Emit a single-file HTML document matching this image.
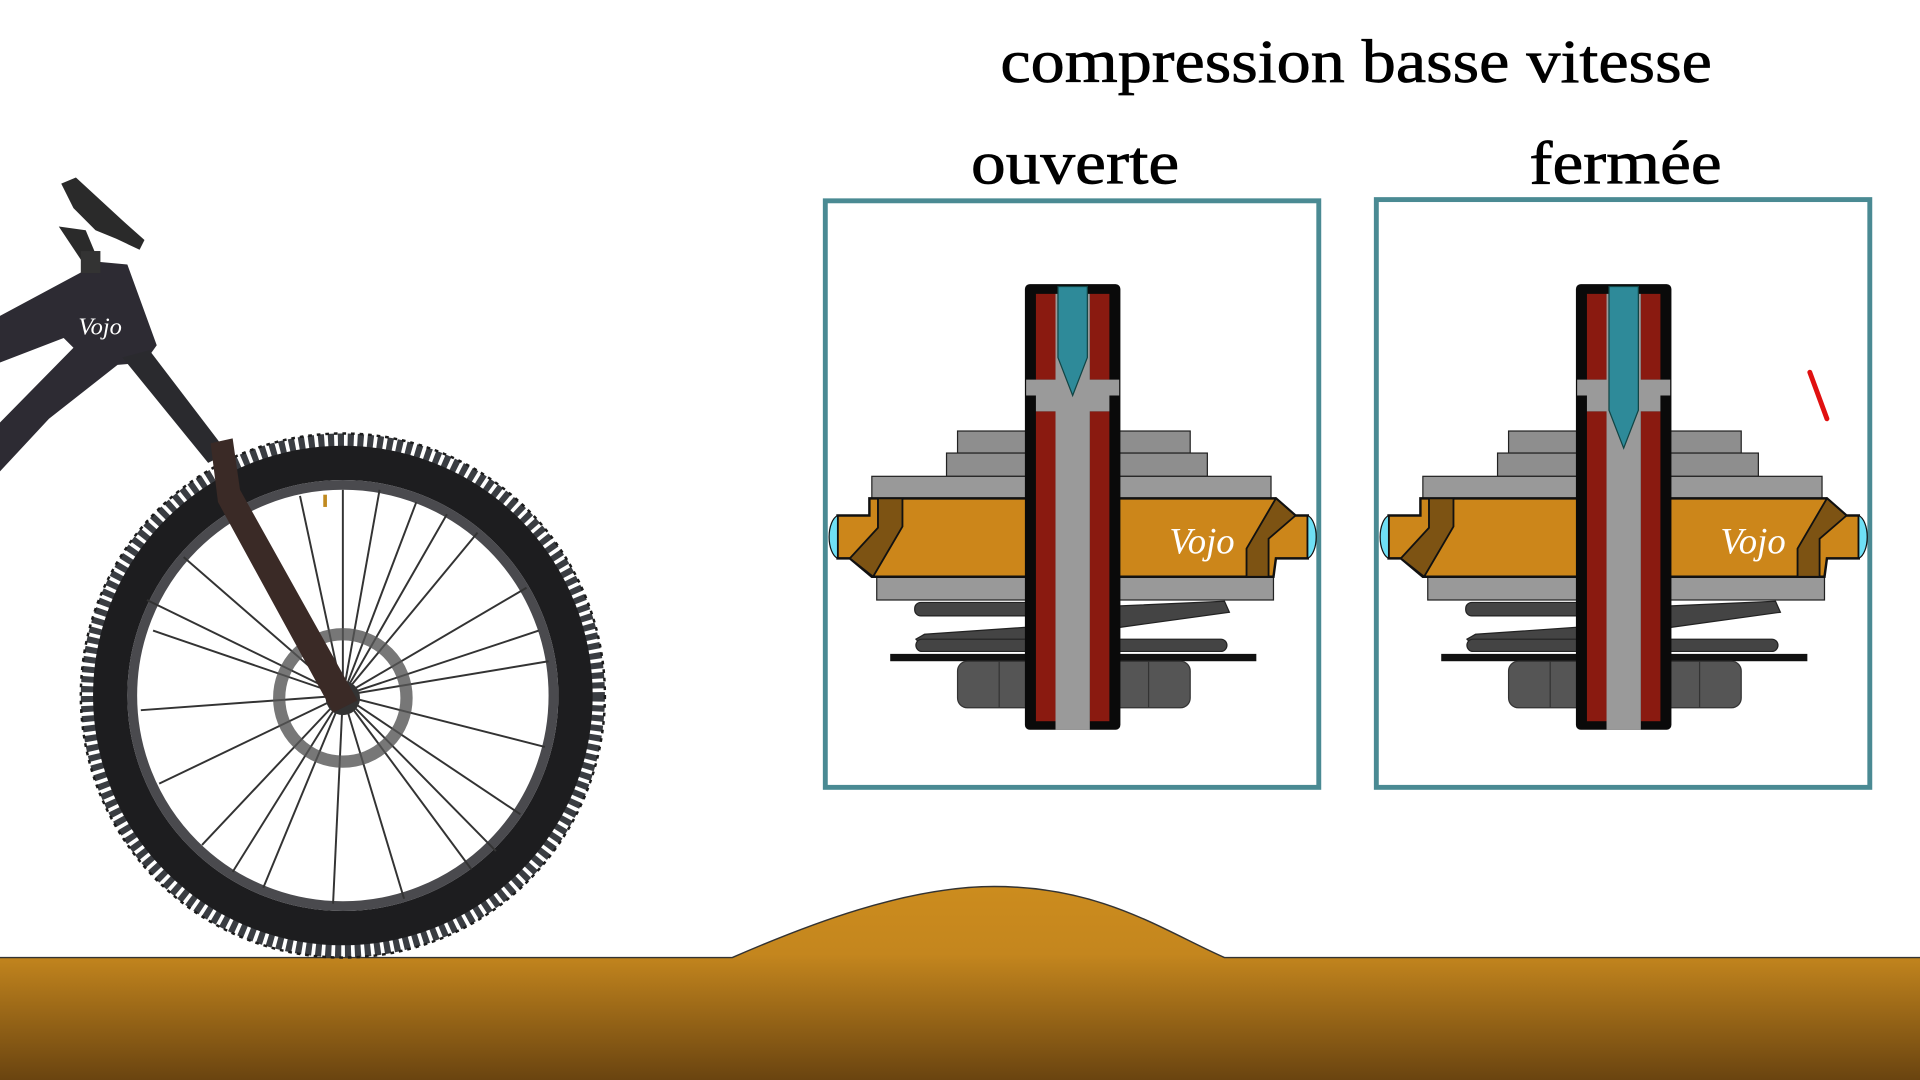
<!DOCTYPE html>
<html><head><meta charset="utf-8"><style>
html,body{margin:0;padding:0;background:#fff;width:1920px;height:1080px;overflow:hidden}
svg{display:block}
text{font-family:"Liberation Serif",serif}
</style></head><body>
<svg width="1920" height="1080" viewBox="0 0 1568 882" preserveAspectRatio="none" xmlns="http://www.w3.org/2000/svg">
<defs>
<linearGradient id="gr" x1="0" y1="0" x2="0" y2="1">
<stop offset="0" stop-color="#cc8c1e"/><stop offset="0.35" stop-color="#c4861e"/><stop offset="1" stop-color="#6a4410"/>
</linearGradient>
<g id="piston">
  <rect x="782" y="352" width="60" height="18" fill="#8e8e8e" stroke="#222" stroke-width="1"/>
  <rect x="773" y="370" width="69" height="19" fill="#8e8e8e" stroke="#222" stroke-width="1"/>
  <rect x="712" y="389" width="130" height="19" fill="#999" stroke="#222" stroke-width="1"/>
  <rect x="910" y="352" width="62" height="18" fill="#8e8e8e" stroke="#222" stroke-width="1"/>
  <rect x="910" y="370" width="76" height="19" fill="#8e8e8e" stroke="#222" stroke-width="1"/>
  <rect x="910" y="389" width="128" height="19" fill="#999" stroke="#222" stroke-width="1"/>
  <rect x="716" y="471" width="126" height="19" fill="#999" stroke="#222" stroke-width="1"/>
  <rect x="910" y="471" width="130" height="19" fill="#999" stroke="#222" stroke-width="1"/>
  <rect x="747" y="492" width="95" height="11" rx="5" fill="#444" stroke="#222"/>
  <polygon points="910,495 1000,491 1004,500 910,513" fill="#444" stroke="#222"/>
  <polygon points="842,512 842,525 752,526 748,522 755,518" fill="#444" stroke="#222"/>
  <rect x="748" y="522" width="94" height="10" rx="5" fill="#444" stroke="#222"/>
  <rect x="910" y="522" width="92" height="10" rx="5" fill="#444" stroke="#222"/>
  <rect x="727" y="534" width="299" height="6" fill="#111"/>
  <rect x="782" y="540" width="190" height="38" rx="8" fill="#555" stroke="#333"/>
  <line x1="816" y1="540" x2="816" y2="578" stroke="#333"/>
  <line x1="938" y1="540" x2="938" y2="578" stroke="#333"/>
  <polygon points="710,407 842,407 842,471 712,471 694,456 684,456 684,421 710,421" fill="#cc861a" stroke="#111" stroke-width="2"/>
  <polygon points="717,407 737,407 737,430 713,471 694,456 717,431" fill="#7d5313" stroke="#111" stroke-width="1.5"/>
  <path d="M684,421 A9,18 0 0 0 684,456 Z" fill="#6fe0f5" stroke="#111"/>
  <polygon points="910,407 1042,407 1058,421 1068,421 1068,456 1042,456 1040,471 910,471" fill="#cc861a" stroke="#111" stroke-width="2"/>
  <polygon points="1042,407 1058,421 1036,440 1036,471 1018,471 1018,448" fill="#7d5313" stroke="#111" stroke-width="1.5"/>
  <path d="M1068,421 A9,18 0 0 1 1068,456 Z" fill="#6fe0f5" stroke="#111"/>
  <text x="955" y="452" font-family="Liberation Sans,sans-serif" font-style="italic" font-size="30" fill="#fff">Vojo</text>
  <rect x="837" y="232" width="78" height="364" rx="4" fill="#0a0a0a"/>
  <rect x="846" y="240" width="16" height="70" fill="#8a1a10"/>
  <rect x="890" y="240" width="16" height="70" fill="#8a1a10"/>
  <rect x="846" y="336" width="16" height="253" fill="#8a1a10"/>
  <rect x="890" y="336" width="16" height="253" fill="#8a1a10"/>
  <rect x="862" y="240" width="28" height="356" fill="#9a9a9a"/>
  <polygon points="838,310 914,310 914,323 906,323 906,336 846,336 846,323 838,323" fill="#9a9a9a"/>
</g>
</defs>

<text x="817" y="67" font-size="50" textLength="581" lengthAdjust="spacingAndGlyphs" fill="#000" stroke="#000" stroke-width="0.6">compression basse vitesse</text>
<text x="793" y="150" font-size="50" textLength="170" lengthAdjust="spacingAndGlyphs" fill="#000" stroke="#000" stroke-width="0.6">ouverte</text>
<text x="1249" y="150" font-size="50" textLength="157" lengthAdjust="spacingAndGlyphs" fill="#000" stroke="#000" stroke-width="0.6">fermée</text>

<rect x="674" y="164" width="403" height="479" fill="none" stroke="#4a8a93" stroke-width="4"/>
<rect x="1124" y="163" width="403" height="480" fill="none" stroke="#4a8a93" stroke-width="4"/>

<use href="#piston"/>
<polygon points="864,234 888,234 888,292 876,323 864,292" fill="#2e8a99" stroke="#144" stroke-width="1"/>
<use href="#piston" transform="translate(450,0)"/>
<polygon points="1314,234 1338,234 1338,335 1326,366 1314,335" fill="#2e8a99" stroke="#144" stroke-width="1"/>
<line x1="1478" y1="304" x2="1492" y2="342" stroke="#e01010" stroke-width="4" stroke-linecap="round"/>

<path d="M0,782 L598,782 C660,755 740,724 812,724 C900,724 950,760 1000,782 L1568,782 L1568,882 L0,882 Z" fill="url(#gr)"/>
<path d="M0,782 L598,782 C660,755 740,724 812,724 C900,724 950,760 1000,782 L1568,782" fill="none" stroke="#333" stroke-width="1.2"/>

<path d="M0,258 L82,214 L104,216 L128,282 L118,296 L96,298 L40,342 L0,385 Z M0,296 L52,276 L60,284 L0,345 Z" fill="#2d2b33" fill-rule="evenodd"/>
<text x="64" y="273" font-family="Liberation Sans,sans-serif" font-style="italic" font-size="20" fill="#fff">Vojo</text>
<path d="M50,150 L62,145 L100,180 L118,196 L114,204 L95,195 L78,188 L60,170 Z" fill="#2a2a2a"/>
<path d="M48,185 L70,188 L80,212 L70,218 Z" fill="#2a2a2a"/>
<rect x="66" y="205" width="16" height="18" fill="#333"/>
<circle cx="280" cy="568" r="208" fill="none" stroke="#3a3d42" stroke-width="12" stroke-dasharray="5 3"/>
<circle cx="280" cy="568" r="190" fill="none" stroke="#1d1d1f" stroke-width="28"/>
<circle cx="280" cy="568" r="172" fill="none" stroke="#4a4a4e" stroke-width="8"/>
<circle cx="280" cy="568" r="214" fill="none" stroke="#1a1a1a" stroke-width="2" stroke-dasharray="3 4"/>
<g stroke="#333" stroke-width="1.6">
<line x1="280" y1="568" x2="280" y2="400"/><line x1="280" y1="568" x2="340" y2="410"/><line x1="280" y1="568" x2="390" y2="435"/>
<line x1="280" y1="568" x2="430" y2="480"/><line x1="280" y1="568" x2="448" y2="540"/><line x1="280" y1="568" x2="445" y2="610"/>
<line x1="280" y1="568" x2="425" y2="665"/><line x1="280" y1="568" x2="385" y2="710"/><line x1="280" y1="568" x2="330" y2="734"/>
<line x1="280" y1="568" x2="272" y2="738"/><line x1="280" y1="568" x2="215" y2="725"/><line x1="280" y1="568" x2="165" y2="690"/>
<line x1="280" y1="568" x2="130" y2="640"/><line x1="280" y1="568" x2="115" y2="580"/><line x1="280" y1="568" x2="125" y2="515"/>
<line x1="280" y1="568" x2="150" y2="455"/><line x1="280" y1="568" x2="205" y2="420"/><line x1="280" y1="568" x2="245" y2="405"/>
<line x1="280" y1="568" x2="310" y2="400"/><line x1="280" y1="568" x2="440" y2="515"/><line x1="280" y1="568" x2="405" y2="695"/>
<line x1="280" y1="568" x2="190" y2="712"/><line x1="280" y1="568" x2="120" y2="490"/><line x1="280" y1="568" x2="365" y2="420"/>
</g>
<circle cx="280" cy="570" r="52" fill="none" stroke="#555" stroke-width="10" opacity="0.8"/>
<circle cx="280" cy="570" r="14" fill="#333"/>
<path d="M100,292 L122,286 L186,370 L170,378 Z" fill="#2a2a2e"/>
<path d="M172,362 L190,358 L196,400 L292,572 L272,582 L178,410 Z" fill="#3a2a26"/>
<rect x="264" y="404" width="3" height="10" fill="#c08a20"/>
</svg>
</body></html>
